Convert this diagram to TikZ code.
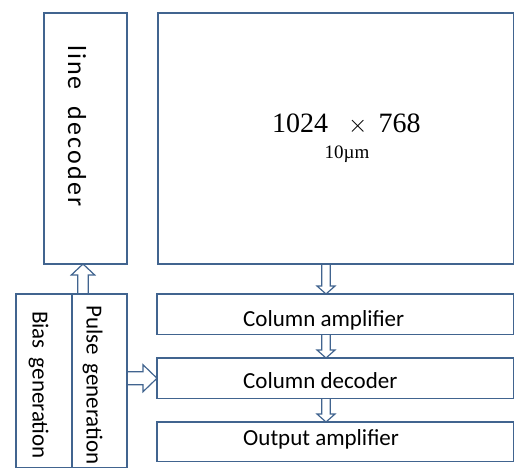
\documentclass[tikz,border=0pt]{standalone}
\usepackage{fontspec}
\setmainfont{Carlito}
\newfontfamily\numfont{Liberation Serif}
\usepackage{xcolor}
\usepackage{tikz}
\usetikzlibrary{positioning,calc}
\definecolor{boxblue}{RGB}{65,100,143}

% hollow block arrow: from, to, half shaft, half head, head length
\newcommand{\hollowarrow}[5]{%
	\path #1 coordinate (ha) #2 coordinate (hb);
	\coordinate (hh) at ($(hb)!#5!(ha)$);
	\draw[arrowline] ($(ha)!#3!90:(hb)$) -- ($(hh)!#3!90:(hb)$) -- ($(hh)!#4!90:(hb)$)
		-- (hb) -- ($(hh)!#4!-90:(hb)$) -- ($(hh)!#3!-90:(hb)$) -- ($(ha)!#3!-90:(hb)$);
}

\begin{document}
\begin{tikzpicture}[
			x=1pt, y=-1pt,
			blk/.style={draw=boxblue, line width=1.8pt, rectangle, inner sep=0pt, outer sep=0pt, anchor=north west},
			arrowline/.style={draw=boxblue, line width=1.2pt, line join=miter},
			lbl/.style={anchor=base west, inner sep=0pt, font=\fontsize{23}{27}\selectfont},
			vlbl/.style={lbl, rotate=-90}
			]
			\useasboundingbox (0,0) rectangle (515,469);
			% blocks
			\node[blk, minimum width=83pt, minimum height=251pt] (decoder) at (44,13) {};
			\node[blk, minimum width=355.5pt, minimum height=251pt] (array) at (158,13) {};
			\node[blk, minimum width=356.5pt, minimum height=40.5pt] (colamp) at (157,294) {};
			\node[blk, minimum width=356.5pt, minimum height=40.5pt] (coldec) at (157,358) {};
			\node[blk, minimum width=356.5pt, minimum height=39.5pt] (outamp) at (157,422) {};
			\node[blk, minimum width=111pt, minimum height=173.5pt] (gen) at (16,294) {};
			\draw[draw=boxblue, line width=1.8pt] ([xshift=56pt]gen.north west) -- ([xshift=56pt]gen.south west);
			% texts
			\node[vlbl, font=\fontsize{26}{30}\selectfont] (dect) at (68,45) {\addfontfeature{LetterSpace=8}line\hspace{17pt}decoder};
			\node[vlbl] (biast) at (32.5,311) {Bias\hspace{9pt}generation};
			\node[vlbl] (pulset) at (86.5,305) {Pulse\hspace{8.5pt}generation};
			\node[lbl] (ampt) at ([shift={(86pt,-12pt)}]colamp.west) {Column amplifier};
			\node[lbl] (dect2) at ([shift={(86pt,-10pt)}]coldec.west) {Column decoder};
			\node[lbl] (outt) at ([shift={(86pt,-3.5pt)}]outamp.west) {Output amplifier};
			\node[anchor=base west, inner sep=0pt, font=\numfont\fontsize{28}{32}\selectfont] (dims) at (272,132) {1024\hspace{20pt}{\fontsize{36}{36}\selectfont$\times$}\hspace{11pt}768};
			\node[anchor=base, inner sep=0pt, font=\numfont\fontsize{19}{22}\selectfont] (pitch) at (347,158) {10µm};
			% arrows
			\coordinate (up0) at ([xshift=67pt]gen.north west);
			\coordinate (dn0) at ([xshift=168pt]array.south west);
			\hollowarrow{(up0)}{(up0 |- decoder.south)}{5.3pt}{11.7pt}{11pt}
			\hollowarrow{(dn0)}{(dn0 |- colamp.north)}{4.3pt}{9pt}{8pt}
			\hollowarrow{(dn0 |- colamp.south)}{(dn0 |- coldec.north)}{4.3pt}{9pt}{8pt}
			\hollowarrow{(dn0 |- coldec.south)}{(dn0 |- outamp.north)}{4.3pt}{9pt}{8pt}
			\hollowarrow{(gen.east |- coldec.west)}{(coldec.west)}{6.5pt}{13.5pt}{14pt}
		\end{tikzpicture}
\end{document}
